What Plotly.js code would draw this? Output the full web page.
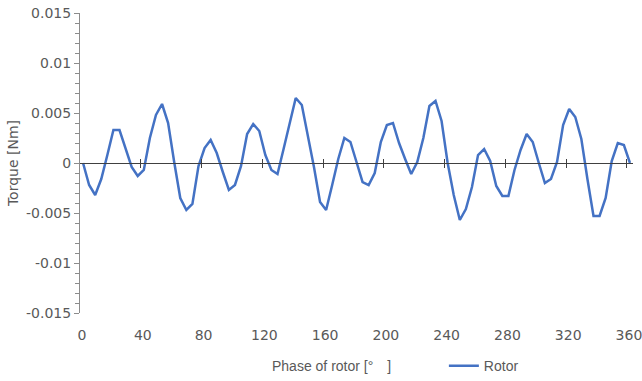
<!DOCTYPE html>
<html>
<head>
<meta charset="utf-8">
<script src="https://cdn.plot.ly/plotly-3.0.1.min.js"></script>
<style>html,body{margin:0;padding:0;background:#fff;}#chart{width:642px;height:381px;}</style>
</head>
<body>
<div id="chart"></div>
<script>
// Phase of rotor [deg]
const phaseDeg = [0,4,8,12,16,20,24,28,32,36,40,44,48,52,56,60,64,68,72,76,80,84,88,92,96,100,104,108,112,116,120,124,128,132,136,140,144,148,152,156,160,164,168,172,176,180,184,188,192,196,200,204,208,212,216,220,224,228,232,236,240,244,248,252,256,260,264,268,272,276,280,284,288,292,296,300,304,308,312,316,320,324,328,332,336,340,344,348,352,356,360];
// Rotor torque [Nm]
const rotorTorque = [0,-0.0022,-0.0032,-0.0016,0.0008,0.0033,0.0033,0.0015,-0.0004,-0.0013,-0.0007,0.0025,0.0048,0.0059,0.0040,0.0001,-0.0035,-0.0047,-0.0041,-0.0003,0.0015,0.0023,0.0010,-0.0009,-0.0027,-0.0022,-0.0003,0.0029,0.0039,0.0032,0.0008,-0.0007,-0.0011,0.0014,0.0040,0.0065,0.0058,0.0028,-0.0004,-0.0039,-0.0047,-0.0022,0.0004,0.0025,0.0021,0.0001,-0.0019,-0.0022,-0.0010,0.0021,0.0038,0.0040,0.0020,0.0004,-0.0011,0.0001,0.0025,0.0057,0.0062,0.0042,0.0000,-0.0032,-0.0057,-0.0046,-0.0024,0.0008,0.0014,0.0002,-0.0023,-0.0033,-0.0033,-0.0007,0.0013,0.0029,0.0021,0.0000,-0.0020,-0.0016,0.0001,0.0038,0.0054,0.0046,0.0024,-0.0016,-0.0053,-0.0053,-0.0035,0.0002,0.0020,0.0018,0.0000];
const seriesName = 'Rotor';
const xLabelVals = [0,40,80,120,160,200,240,280,320,360];
const xLabelText = ['0','40','80','120','160','200','240','280','320','360'];
const xCrossTickVals = [38,78,118,158,198,238,278,318,358];
const yTickVals = [-0.015,-0.01,-0.005,0,0.005,0.01,0.015];
const yTickText = ['-0.015','-0.01','-0.005','0','0.005','0.01','0.015'];

const gray = '#595959';
const tickFont = {family:'DejaVu Sans', size:14, color:gray};
const titleFont = {family:'Liberation Sans', size:14, color:gray};
const xRange = [-2, 362];

const data = [
  {x: phaseDeg, y: rotorTorque, type:'scatter', mode:'lines', name: seriesName,
   line:{color:'#4472C4', width:2.5}, xaxis:'x', yaxis:'y'},
  // empty helper traces so the crossing-tick axes on the zero line are drawn
  {x: [], y: [], type:'scatter', mode:'lines', xaxis:'x2', yaxis:'y', showlegend:false, hoverinfo:'skip'},
  {x: [], y: [], type:'scatter', mode:'lines', xaxis:'x3', yaxis:'y', showlegend:false, hoverinfo:'skip'}
];

const crossAxis = {
  overlaying:'x', anchor:'free', position:0.5, range:xRange,
  tickmode:'array', tickvals:xCrossTickVals, showticklabels:false,
  showgrid:false, zeroline:false, ticklen:4, tickcolor:'#404040', tickwidth:1, automargin:false
};

const layout = {
  width:642, height:381,
  margin:{l:80, r:9, t:13, b:68, autoexpand:false},
  paper_bgcolor:'#ffffff', plot_bgcolor:'#ffffff',
  showlegend:true,
  legend:{orientation:'h', x:0.658, xanchor:'left', yref:'container', y:0.039, yanchor:'middle',
          font:titleFont, bgcolor:'rgba(0,0,0,0)', itemwidth:30},
  xaxis:{range:xRange, tickmode:'array', tickvals:xLabelVals, ticktext:xLabelText,
         showline:false, showgrid:false, zeroline:false, ticks:'', automargin:false,
         ticklabelstandoff:12, ticklabelshift:-1, ticklabeloverflow:'allow', tickfont:tickFont},
  xaxis2:Object.assign({}, crossAxis, {showline:true, linecolor:'#404040', linewidth:1, ticks:'outside'}),
  xaxis3:Object.assign({}, crossAxis, {showline:false, ticks:'inside'}),
  yaxis:{range:[-0.015,0.015], tickmode:'array', tickvals:yTickVals, ticktext:yTickText,
         showline:true, linecolor:'#8c8c8c', linewidth:1, ticks:'outside', ticklen:5,
         tickcolor:'#8c8c8c', showgrid:false, zeroline:true, zerolinecolor:'#404040', zerolinewidth:1,
         tickfont:tickFont,
         minor:{tickmode:'linear', tick0:0, dtick:0.001, ticks:'outside', ticklen:4, tickcolor:'#8c8c8c'},
         title:{text:'Torque [Nm]', font:{family:'DejaVu Sans', size:14, color:gray}, standoff:4},
         automargin:false},
  annotations:[{text:'Phase of rotor [°\u2002\u2002]', xref:'paper', yref:'paper',
                x:0.454, y:-0.177, xanchor:'center', yanchor:'middle', showarrow:false, font:titleFont}]
};

Plotly.newPlot('chart', data, layout, {displayModeBar:false, staticPlot:true});
</script>
</body>
</html>
